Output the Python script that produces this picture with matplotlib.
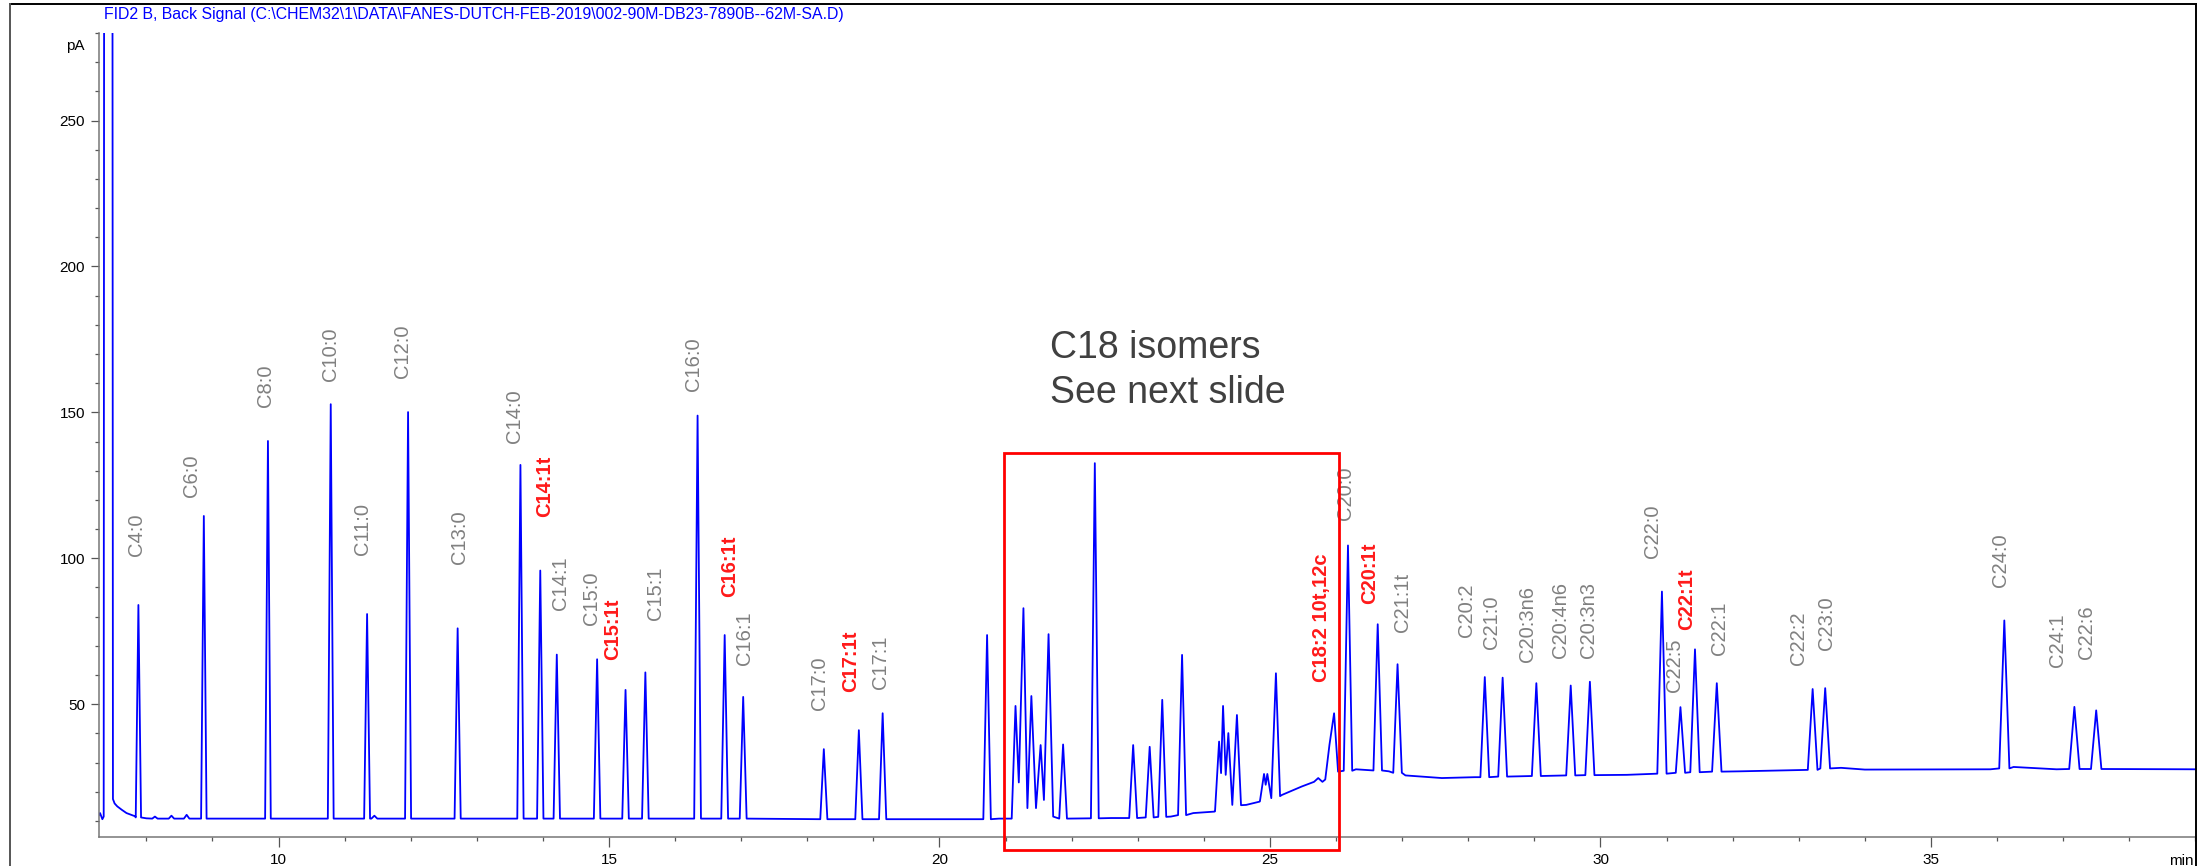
import numpy as np
import matplotlib
matplotlib.use('Agg')
import matplotlib.pyplot as plt
from matplotlib.patches import Rectangle
from matplotlib.lines import Line2D
from matplotlib.ticker import MultipleLocator

plt.rcParams['font.family'] = ['Liberation Sans', 'DejaVu Sans']

TITLE = r'FID2 B, Back Signal (C:\CHEM32\1\DATA\FANES-DUTCH-FEB-2019\002-90M-DB23-7890B--62M-SA.D)'

# peak apexes: retention time (min), signal (pA) and the baseline level under each peak
peak_rt = [7.88, 8.13, 8.38, 8.61, 8.87, 9.84, 10.79, 11.34, 11.45, 11.96,
           12.71, 13.66, 13.96, 14.21, 14.82, 15.25, 15.55, 16.34, 16.75, 17.03,
           18.25, 18.78, 19.14, 20.72, 21.15, 21.27, 21.39, 21.53, 21.65, 21.87,
           22.35, 22.93, 23.18, 23.37, 23.67, 24.23, 24.29, 24.37, 24.50, 24.91,
           24.96, 25.09, 25.73, 25.90, 25.97, 26.18, 26.63, 26.93, 28.25, 28.52,
           29.03, 29.55, 29.84, 30.93, 31.21, 31.43, 31.76, 33.21, 33.40, 36.11,
           37.17, 37.50]
peak_pa = [84.0, 11.5, 11.8, 12.1, 114.5, 140.2, 152.8, 80.9, 11.8, 150.1,
           76.0, 132.0, 95.8, 67.0, 65.4, 54.9, 60.9, 148.9, 73.7, 52.5,
           34.6, 41.1, 46.9, 73.7, 49.4, 82.9, 52.8, 36.0, 74.0, 36.2,
           132.6, 36.0, 35.4, 51.5, 66.9, 37.2, 49.4, 40.1, 46.3, 26.1,
           26.1, 60.6, 24.7, 36.1, 46.9, 104.4, 77.4, 63.7, 59.3, 59.1,
           57.2, 56.4, 57.7, 88.6, 49.0, 68.8, 57.2, 55.2, 55.5, 78.7,
           49.1, 47.9]
peak_base = [11.2, 10.8, 10.8, 10.8, 10.8, 10.8, 10.8, 10.8, 10.8, 10.8,
             10.8, 10.8, 10.8, 10.8, 10.8, 10.8, 10.8, 10.8, 10.8, 10.8,
             10.6, 10.6, 10.6, 10.6, 10.8, 10.8, 10.8, 10.8, 10.8, 10.8,
             10.9, 11.0, 11.2, 11.4, 12.0, 13.3, 13.5, 14.5, 15.4, 16.7,
             17.0, 18.5, 23.4, 24.2, 25.0, 27.2, 27.3, 26.5, 25.0, 25.2,
             25.4, 25.6, 25.7, 26.2, 26.5, 26.7, 26.9, 27.5, 28.0, 28.0,
             27.8, 27.8]

# valleys between peaks that are not resolved to baseline
valley_rt = [21.20, 21.33, 21.46, 21.58, 21.72, 24.26, 24.33, 24.43, 24.935, 25.02, 26.03]
valley_pa = [23.2, 14.4, 14.4, 17.2, 11.5, 26.4, 25.8, 15.5, 22.4, 17.8, 26.9]

# baseline: start, off-scale solvent front, solvent tail and late drift
base_rt = [7.284, 7.30, 7.335, 7.355, 7.42, 7.495, 7.52, 7.56, 7.63, 7.70,
           7.78, 7.83, 8.0, 20.9, 22.6, 23.5, 23.84, 24.16, 24.64, 24.84,
           25.18, 25.48, 25.68, 25.85, 26.30, 26.8, 27.05, 27.6, 28.1, 28.75,
           30.4, 30.75, 32.1, 33.1, 33.64, 34.0, 35.9, 36.25, 36.9, 39.01]
base_pa = [12.0, 12.7, 10.6, 11.5, 3000.0, 17.5, 16.0, 15.0, 13.8, 12.7,
           12.0, 11.6, 10.9, 10.8, 11.0, 11.5, 12.7, 13.2, 15.5, 16.6,
           18.9, 21.8, 23.2, 24.1, 27.7, 27.0, 25.6, 24.7, 25.0, 25.3,
           25.8, 26.1, 27.0, 27.5, 28.2, 27.6, 27.7, 28.5, 27.7, 27.7]

# peak names, where they sit (min, pA of the text's lower end)
label_text = ['C4:0', 'C6:0', 'C8:0', 'C10:0', 'C11:0', 'C12:0', 'C13:0', 'C14:0',
              'C14:1t', 'C14:1', 'C15:0', 'C15:1t', 'C15:1', 'C16:0', 'C16:1t',
              'C16:1', 'C17:0', 'C17:1t', 'C17:1', 'C18:2 10t,12c', 'C20:0',
              'C20:1t', 'C21:1t', 'C20:2', 'C21:0', 'C20:3n6', 'C20:4n6',
              'C20:3n3', 'C22:0', 'C22:5', 'C22:1t', 'C22:1', 'C22:2', 'C23:0',
              'C24:0', 'C24:1', 'C22:6']
label_rt = [7.85, 8.68, 9.80, 10.78, 11.27, 11.87, 12.74, 13.57,
            14.02, 14.27, 14.74, 15.05, 15.70, 16.28, 16.82,
            17.05, 18.19, 18.66, 19.11, 25.78, 26.15,
            26.51, 27.01, 27.98, 28.35, 28.90, 29.40,
            29.82, 30.79, 31.12, 31.31, 31.80, 33.00, 33.42,
            36.05, 36.92, 37.36]
label_pa = [100.9, 121.0, 152.0, 160.6, 101.3, 161.9, 98.0, 139.6,
            114.3, 82.4, 77.2, 65.1, 79.0, 157.3, 86.8,
            63.4, 47.9, 54.3, 55.2, 57.7, 113.0,
            84.4, 74.7, 72.9, 68.8, 64.6, 66.0,
            66.0, 100.0, 54.1, 75.3, 66.7, 63.4, 68.5,
            90.2, 62.6, 65.4]
trans_labels = {'C14:1t', 'C15:1t', 'C16:1t', 'C17:1t', 'C18:2 10t,12c',
                'C20:1t', 'C22:1t'}

# C18 region marked on the trace (min, pA)
box_rt = (20.97, 26.05)
box_pa = (0.0, 136.1)


def half_width(rt):
    # peaks broaden slowly with retention time
    return 0.03 + 0.0013 * rt


# assemble the trace: apexes and valleys, plus peak feet and baseline knots
anchors = sorted(zip(peak_rt + valley_rt, peak_pa + valley_pa))
anchor_t = np.array([a[0] for a in anchors])
pts = list(anchors)
for rt, h, b in zip(peak_rt, peak_pa, peak_base):
    w = half_width(rt)
    others = anchor_t[np.abs(anchor_t - rt) > 1e-9]
    if not np.any((others < rt) & (others >= rt - 2 * w)):
        pts.append((rt - w, b))
    if not np.any((others > rt) & (others <= rt + 2 * w)):
        pts.append((rt + w, b))
apex = np.array(peak_rt)
for t, p in zip(base_rt, base_pa):
    if np.all(np.abs(apex - t) > half_width(apex)):
        pts.append((t, p))
pts.sort()
trace_t = [p[0] for p in pts]
trace_pa = [p[1] for p in pts]

W, H = 2204, 866
fig = plt.figure(figsize=(W / 100, H / 100), dpi=100)
ax = fig.add_axes([99 / W, 29 / H, (2196 - 99) / W, (833 - 29) / H])

ax.plot(trace_t, trace_pa, color='#0000ff', lw=1.3, solid_joinstyle='round')
ax.set_xlim(7.284, 39.01)
ax.set_ylim(4.5, 280)

for side in ('top', 'right'):
    ax.spines[side].set_visible(False)
for side in ('left', 'bottom'):
    ax.spines[side].set_color('#777777')
    ax.spines[side].set_linewidth(1.1)

ax.xaxis.set_major_locator(MultipleLocator(5))
ax.xaxis.set_minor_locator(MultipleLocator(1))
ax.yaxis.set_major_locator(MultipleLocator(50))
ax.yaxis.set_minor_locator(MultipleLocator(10))
ax.tick_params(axis='x', which='major', length=7.2, width=0.9, color='#555555',
               labelsize=11, pad=4.3)
ax.tick_params(axis='x', which='minor', length=3.2, width=0.9, color='#555555')
ax.tick_params(axis='y', which='major', length=5.8, width=0.9, color='#555555',
               labelsize=11, pad=4.3)
ax.tick_params(axis='y', which='minor', length=2.9, width=0.9, color='#555555')
ax.set_yticks([50, 100, 150, 200, 250])

for name, rt, pa in zip(label_text, label_rt, label_pa):
    trans = name in trans_labels
    ax.text(rt, pa, name, rotation=90, ha='center', va='bottom', fontsize=14.5,
            color='#ff1a1a' if trans else '#808080',
            fontweight='bold' if trans else 'normal')

ax.add_patch(Rectangle((box_rt[0], box_pa[0]), box_rt[1] - box_rt[0],
                       box_pa[1] - box_pa[0], fill=False, ec='#ff0000', lw=2.0,
                       clip_on=False, zorder=5))
ax.text(21.67, 168.6, 'C18 isomers', fontsize=27, color='#404040', va='baseline')
ax.text(21.67, 153.2, 'See next slide', fontsize=27, color='#404040', va='baseline')

# report header and units
fig.text(104 / W, 1 - 19.5 / H, TITLE, color='#0000ff', fontsize=11.4, va='baseline')
fig.text(85 / W, 1 - 46 / H, 'pA', fontsize=11, ha='right', va='center')
fig.text(2194 / W, 1 - 865 / H, 'min', fontsize=11, ha='right', va='baseline')

# page frame
fx0, fx1, fy1 = 10 / W, 2196 / W, 1 - 4 / H
fig.add_artist(Line2D([fx0, fx1], [fy1, fy1], color='black', lw=1.4))
fig.add_artist(Line2D([fx0, fx0], [0, fy1], color='#555555', lw=1.4))
fig.add_artist(Line2D([fx1, fx1], [0, fy1], color='black', lw=1.4))

fig.savefig('out.png', dpi=100)
